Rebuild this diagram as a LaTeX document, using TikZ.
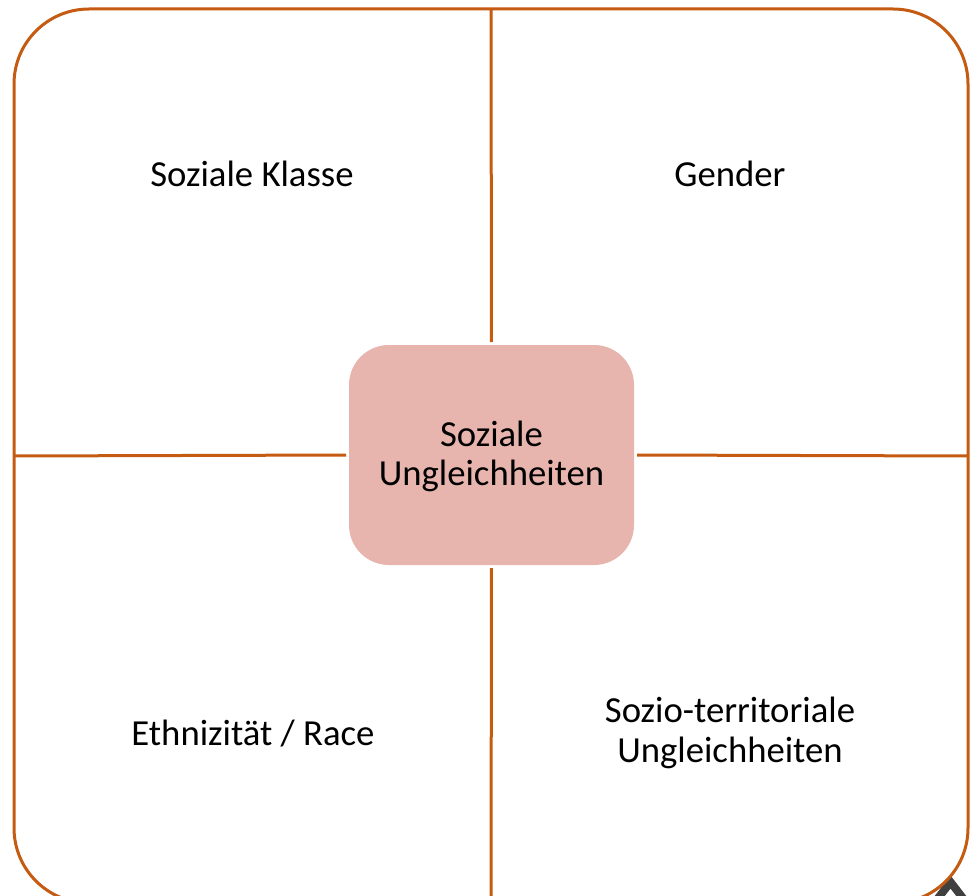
\documentclass[tikz,border=0pt]{standalone}
\usepackage{fontspec}
\setmainfont{Carlito}
\definecolor{framec}{HTML}{C55A11}
\definecolor{corefill}{HTML}{E7B5AD}
\definecolor{glyphc}{HTML}{404040}
\begin{document}
\begin{tikzpicture}[x=1pt,y=-1pt,
  framebox/.style={draw=framec, line width=3pt, rounded corners=75pt, minimum width=954pt, minimum height=894pt, inner sep=0pt, outer sep=0pt},
  corebox/.style={fill=corefill, rounded corners=40pt, minimum width=285pt, minimum height=220pt, inner sep=0pt, outer sep=0pt},
  divider/.style={draw=framec, line width=3pt},
  label/.style={font=\fontsize{36.7}{39.5}\selectfont, align=center, inner sep=0pt, anchor=base, text=black}]
\useasboundingbox (0,0) rectangle (970,896);
\clip (0,0) rectangle (970,896);
\fill[white] (0,0) rectangle (970,896);
\coordinate (ga) at (950.5,882);
\coordinate (gl) at (929,910);
\coordinate (gr) at (972,910);
\draw[glyphc, line width=8pt, miter limit=10] (gl) -- (ga) -- (gr);
\node[framebox] (frame) at (491,456) {};
\node[corebox] (core) at (491.5,455) {};
\draw[divider, shorten >=3pt] (frame.north) -- (core.north);
\draw[divider, shorten >=3pt] (frame.south) -- (core.south);
\draw[divider, shorten >=3pt] (frame.west) -- (core.west);
\draw[divider, shorten >=3pt] (frame.east) -- (core.east);
\node[label] (core text) at (491.5,485.5) {Soziale\\Ungleichheiten};
\node[label] (klasse) at (252,187) {Soziale Klasse};
\node[label] (gender) at (730,187) {Gender};
\node[label] (ethnie) at (253,745) {Ethnizität / Race};
\node[label] (territorial) at (730,762) {Sozio-territoriale\\Ungleichheiten};
\end{tikzpicture}
\end{document}
